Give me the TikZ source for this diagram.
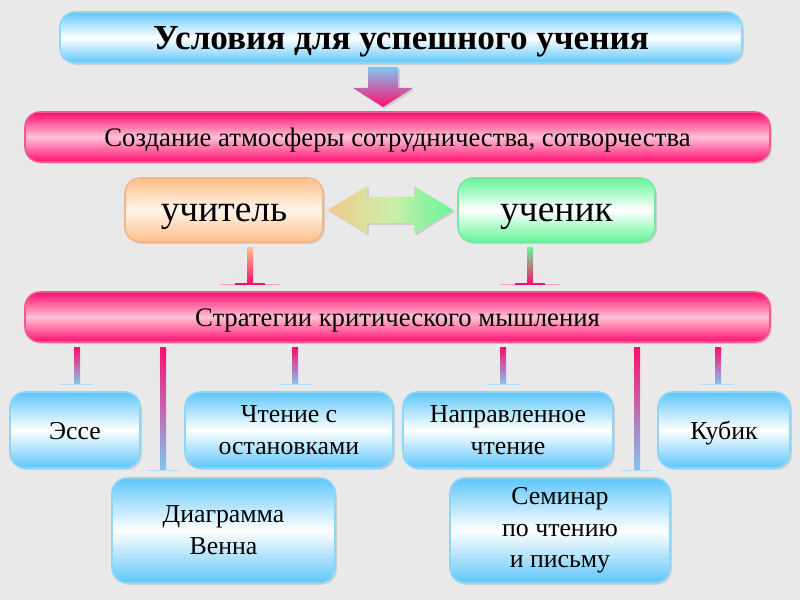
\documentclass[tikz,border=0pt]{standalone}
\usepackage{fontspec}
\setmainfont{Liberation Serif}
\usetikzlibrary{calc,shadows}
\newlength\px
\setlength\px{0.03cm}
\definecolor{bg}{HTML}{E9E9E9}
\definecolor{bluec}{HTML}{5EC6FA}
\definecolor{blueb}{HTML}{8ED6F8}
\definecolor{pinkc}{HTML}{FF0D6E}
\definecolor{pinkm}{HTML}{FFC2D6}
\definecolor{pinkb}{HTML}{F05A90}
\definecolor{orc}{HTML}{FFBE88}
\definecolor{orm}{HTML}{FFF4EA}
\definecolor{orb}{HTML}{F2B58C}
\definecolor{grc}{HTML}{63F597}
\definecolor{grb}{HTML}{74E8A0}
\definecolor{arrl}{HTML}{F2C88C}
\definecolor{arrr}{HTML}{66F598}
\definecolor{arrm}{HTML}{CDEFA8}
\definecolor{cblue}{HTML}{80C6F2}
\newcommand\myconn[5]{%
  \coordinate (ca) at (#1,0 |- #2.south);
  \coordinate (cb) at (#1,0 |- #3.north);
  \shade[top color=#4,bottom color=#5] ($(ca)+(-3,5)$) rectangle ($(cb)+(3,-7)$);
  \draw[#5!60, line width=1.2pt] ($(cb)+(-16,-7)$) -- ($(cb)+(16,-7)$);
}
\begin{document}
\begin{tikzpicture}[x=0.03cm,y=-0.03cm,
  boxbase/.style={rounded corners=15\px, line width=1.3pt, inner sep=0pt,
    drop shadow={shadow xshift=1.5pt,shadow yshift=-1.5pt,opacity=0.25}},
  bluebox/.style={boxbase, draw=blueb, top color=bluec, bottom color=bluec, middle color=white,
    font=\fontsize{22}{27}\selectfont},
  pinkbar/.style={boxbase, draw=pinkb, top color=pinkc, bottom color=pinkc, middle color=pinkm,
    minimum width=745\px, minimum height=50\px, font=\fontsize{22.8}{26}\selectfont,
    text height=15.5pt, text depth=0pt},
  orbox/.style={boxbase, draw=orb, top color=orc, bottom color=orc, middle color=orm,
    minimum width=198\px, minimum height=64\px, font=\fontsize{32}{36}\selectfont,
    text height=20pt, text depth=0pt},
  grbox/.style={boxbase, draw=grb, top color=grc, bottom color=grc, middle color=white,
    minimum width=197\px, minimum height=64\px, font=\fontsize{32}{36}\selectfont,
    text height=20pt, text depth=0pt},
  onebox/.style={bluebox, minimum height=76\px, text height=16pt, text depth=0pt},
  twobox/.style={bluebox, minimum height=76\px, align=center},
  bigbox/.style={bluebox, minimum height=105\px, align=center},
  ]
\fill[bg] (0,0) rectangle (800,600);
\useasboundingbox (0,0) rectangle (800,600);

\node[bluebox, minimum width=682\px, minimum height=51\px, font=\fontsize{30}{34}\bfseries,
  text height=20pt, text depth=0pt] (title) at (401,37.5) {Условия для успешного учения};
\node[pinkbar] (atm) at (397.5,137) {Создание атмосферы сотрудничества, сотворчества};
\node[orbox] (teach) at (224,210) {учитель};
\node[grbox] (stud) at (556.5,210) {ученик};
\node[pinkbar] (strat) at (397.5,317) {Стратегии критического мышления};

\node[onebox, minimum width=130\px] (esse) at (75,430) {Эссе};
\node[twobox, minimum width=208\px] (chten) at (289,430) {Чтение с\\остановками};
\node[twobox, minimum width=210\px] (napr) at (508,430) {Направленное\\чтение};
\node[onebox, minimum width=132\px] (kub) at (724,430) {Кубик};
\node[bigbox, minimum width=223\px] (diag) at (223.5,530.5) {Диаграмма\\Венна};
\node[bigbox, minimum width=220\px] (sem) at (560,530.5) {Семинар\\по чтению\\и письму};

% down arrow
\shade[top color=cblue, bottom color=pinkc, drop shadow={shadow xshift=1.5pt,shadow yshift=-1.5pt,opacity=0.25}]
  (368,67) -- (398,67) -- (398,88) -- (413,88) -- (383,107) -- (353,88) -- (368,88) -- cycle;

% double arrow
\shade[left color=arrl, right color=arrr, middle color=arrm, drop shadow={shadow xshift=1.5pt,shadow yshift=-1.5pt,opacity=0.25}]
  ($(teach.east)+(4,0)$) -- (367,186) -- (367,197) -- (414,197) -- (414,186) -- ($(stud.west)+(-4,0)$)
  -- (414,234) -- (414,223) -- (367,223) -- (367,234) -- cycle;

% connectors teacher/student -> strategies
\coordinate (ta) at (250,0 |- teach.south);
\coordinate (tb) at (250,0 |- strat.north);
\shade[top color=orc, bottom color=pinkc] ($(ta)+(-3,5)$) rectangle ($(tb)+(3,-7)$);
\draw[pinkc!40, line width=1pt] ($(tb)+(-30,-7)$) -- ($(tb)+(30,-7)$);
\draw[pinkc, line width=1.3pt] ($(tb)+(-15,-7)$) -- ($(tb)+(15,-7)$);
\coordinate (sa) at (530,0 |- stud.south);
\coordinate (sb) at (530,0 |- strat.north);
\shade[top color=grc, bottom color=pinkc] ($(sa)+(-3,5)$) rectangle ($(sb)+(3,-7)$);
\draw[pinkc!40, line width=1pt] ($(sb)+(-30,-7)$) -- ($(sb)+(30,-7)$);
\draw[pinkc, line width=1.3pt] ($(sb)+(-15,-7)$) -- ($(sb)+(15,-7)$);

% connectors strategies -> methods
\myconn{77}{strat}{esse}{pinkc}{cblue}
\myconn{295}{strat}{chten}{pinkc}{cblue}
\myconn{503}{strat}{napr}{pinkc}{cblue}
\myconn{718}{strat}{kub}{pinkc}{cblue}
\myconn{163}{strat}{diag}{pinkc}{cblue}
\myconn{637}{strat}{sem}{pinkc}{cblue}
\end{tikzpicture}
\end{document}
